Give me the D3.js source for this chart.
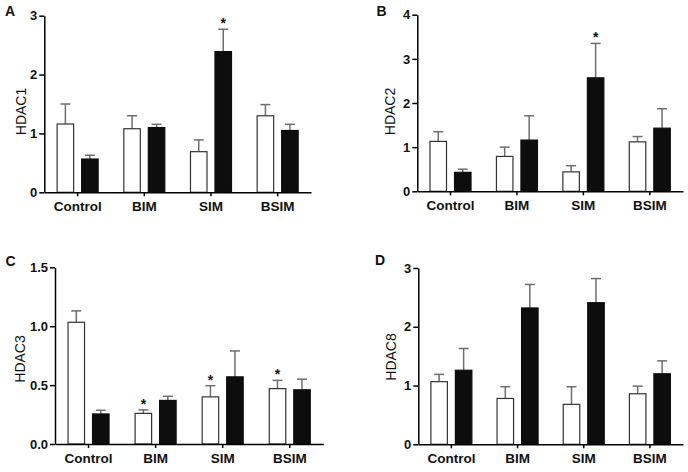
<!DOCTYPE html>
<html>
<head>
<meta charset="utf-8">
<script src="https://cdn.jsdelivr.net/npm/d3@7"></script>
<style>
  html, body { margin: 0; padding: 0; background: #fff; }
  svg { display: block; font-family: Arial, "Liberation Sans", Helvetica, sans-serif; }
</style>
</head>
<body>
<svg id="chart" width="688" height="472"></svg>
<script>
// ---- data ----
const categories = ["Control", "BIM", "SIM", "BSIM"];
const groups = ["white", "black"];

const hdac1White = [1.16, 1.08, 0.69, 1.30];
const hdac1WhiteErr = [0.34, 0.22, 0.20, 0.19];
const hdac1Black = [0.565, 1.10, 2.39, 1.05];
const hdac1BlackErr = [0.065, 0.055, 0.38, 0.105];

const hdac2White = [1.13, 0.79, 0.44, 1.12];
const hdac2WhiteErr = [0.22, 0.21, 0.14, 0.12];
const hdac2Black = [0.43, 1.16, 2.57, 1.43];
const hdac2BlackErr = [0.07, 0.55, 0.78, 0.44];

const hdac3White = [1.033, 0.26, 0.40, 0.47];
const hdac3WhiteErr = [0.097, 0.03, 0.095, 0.07];
const hdac3Black = [0.255, 0.37, 0.57, 0.46];
const hdac3BlackErr = [0.031, 0.035, 0.22, 0.09];

const hdac8White = [1.066, 0.78, 0.68, 0.86];
const hdac8WhiteErr = [0.124, 0.20, 0.30, 0.13];
const hdac8Black = [1.26, 2.32, 2.41, 1.20];
const hdac8BlackErr = [0.37, 0.40, 0.41, 0.22];

// significance stars: [category, group]
const hdac1Stars = [["SIM", "black"]];
const hdac2Stars = [["SIM", "black"]];
const hdac3Stars = [["BIM", "white"], ["SIM", "white"], ["BSIM", "white"]];
const hdac8Stars = [];

const hdac1Ticks = [0, 1, 2, 3];
const hdac2Ticks = [0, 1, 2, 3, 4];
const hdac3Ticks = [0, 0.5, 1.0, 1.5];
const hdac8Ticks = [0, 1, 2, 3];

// ---- panels layout ----
const panels = [
  { letter: "A", title: "HDAC1", white: hdac1White, whiteErr: hdac1WhiteErr, black: hdac1Black, blackErr: hdac1BlackErr,
    stars: hdac1Stars, ticks: hdac1Ticks, fmt: d3.format("d"), ymax: 3,
    x0: 44.3, x1: 311, y0: 192.3, y1: 15.7, letterX: 5, letterY: 16, titleX: 25.5, titleY: 111.5 },
  { letter: "B", title: "HDAC2", white: hdac2White, whiteErr: hdac2WhiteErr, black: hdac2Black, blackErr: hdac2BlackErr,
    stars: hdac2Stars, ticks: hdac2Ticks, fmt: d3.format("d"), ymax: 4,
    x0: 417.3, x1: 683, y0: 191.3, y1: 14.7, letterX: 376.5, letterY: 16, titleX: 395, titleY: 111.5 },
  { letter: "C", title: "HDAC3", white: hdac3White, whiteErr: hdac3WhiteErr, black: hdac3Black, blackErr: hdac3BlackErr,
    stars: hdac3Stars, ticks: hdac3Ticks, fmt: d3.format(".1f"), ymax: 1.5,
    x0: 55, x1: 323.3, y0: 444, y1: 267.3, letterX: 5.5, letterY: 265.5, titleX: 25, titleY: 359 },
  { letter: "D", title: "HDAC8", white: hdac8White, whiteErr: hdac8WhiteErr, black: hdac8Black, blackErr: hdac8BlackErr,
    stars: hdac8Stars, ticks: hdac8Ticks, fmt: d3.format("d"), ymax: 3,
    x0: 418.3, x1: 683, y0: 444.3, y1: 268, letterX: 375, letterY: 264.5, titleX: 396, titleY: 357 }
];

const svg = d3.select("#chart");

panels.forEach(p => {
  const g = svg.append("g");
  const x = d3.scaleBand().domain(categories).range([p.x0, p.x1]).padding(0);
  const inner = d3.scaleBand().domain(groups).range([-20.5, 20.5]).paddingInner(0.327);
  const y = d3.scaleLinear().domain([0, p.ymax]).range([p.y0, p.y1]);

  const rows = [];
  categories.forEach((c, i) => {
    rows.push({ cat: c, grp: "white", v: p.white[i], e: p.whiteErr[i] });
    rows.push({ cat: c, grp: "black", v: p.black[i], e: p.blackErr[i] });
  });
  const cx = d => x(d.cat) + x.bandwidth() / 2 + inner(d.grp) + inner.bandwidth() / 2;

  // error bars (upper only)
  const eb = g.append("g").attr("stroke", "#6e6e6e").attr("stroke-width", 1.5).attr("fill", "none");
  eb.selectAll("line.v").data(rows).join("line")
    .attr("x1", cx).attr("x2", cx)
    .attr("y1", d => y(d.v)).attr("y2", d => y(d.v + d.e));
  eb.selectAll("line.c").data(rows).join("line")
    .attr("x1", d => cx(d) - 5).attr("x2", d => cx(d) + 5)
    .attr("y1", d => y(d.v + d.e)).attr("y2", d => y(d.v + d.e));

  // bars
  g.append("g").selectAll("rect").data(rows).join("rect")
    .attr("x", d => x(d.cat) + x.bandwidth() / 2 + inner(d.grp))
    .attr("width", inner.bandwidth())
    .attr("y", d => y(d.v))
    .attr("height", d => y(0) - y(d.v))
    .attr("fill", d => d.grp === "white" ? "#ffffff" : "#0d0d0d")
    .attr("stroke", d => d.grp === "white" ? "#333" : "#0d0d0d")
    .attr("stroke-width", 1.2);

  // stars
  const starRows = p.stars.map(([c, gr]) => rows.find(r => r.cat === c && r.grp === gr));
  g.append("g").selectAll("text").data(starRows).join("text")
    .attr("x", cx)
    .attr("y", d => y(d.v + d.e) - 1)
    .attr("text-anchor", "middle")
    .attr("font-size", 14).attr("font-weight", "bold").attr("fill", "#111")
    .text("*");

  // y axis
  const ya = g.append("g").attr("transform", `translate(${p.x0},0)`)
    .call(d3.axisLeft(y).tickValues(p.ticks).tickFormat(p.fmt).tickSize(5).tickSizeOuter(0).tickPadding(2));
  ya.selectAll("path, line").attr("stroke", "#000").attr("stroke-width", 1.5);
  ya.selectAll("text").attr("font-size", 13).attr("font-weight", "bold").attr("fill", "#111")
    .attr("font-family", 'Arial, "Liberation Sans", sans-serif');

  // x axis
  const xa = g.append("g").attr("transform", `translate(0,${p.y0})`)
    .call(d3.axisBottom(x).tickSize(4).tickSizeOuter(0).tickPadding(5));
  xa.selectAll("path, line").attr("stroke", "#000").attr("stroke-width", 1.5);
  xa.selectAll("text").attr("font-size", 13.5).attr("font-weight", "bold").attr("fill", "#111")
    .attr("font-family", 'Arial, "Liberation Sans", sans-serif');

  // y title
  g.append("text")
    .attr("transform", `translate(${p.titleX},${p.titleY}) rotate(-90)`)
    .attr("text-anchor", "middle")
    .attr("font-size", 14).attr("fill", "#111")
    .text(p.title);

  // panel letter
  g.append("text")
    .attr("x", p.letterX).attr("y", p.letterY)
    .attr("font-size", 14).attr("font-weight", "bold").attr("fill", "#111")
    .text(p.letter);
});
</script>
</body>
</html>
